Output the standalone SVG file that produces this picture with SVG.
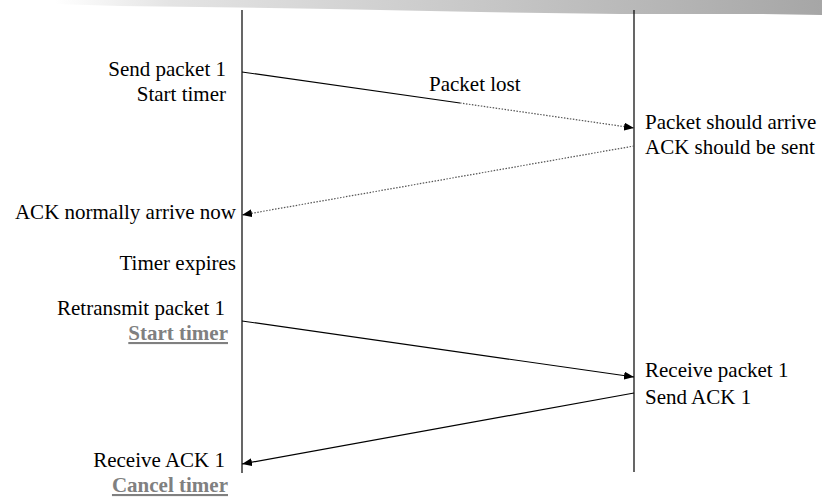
<svg xmlns="http://www.w3.org/2000/svg" width="822" height="498" viewBox="0 0 822 498">
<style>
text{font-family:"Liberation Serif","Times New Roman",serif;font-size:21px;fill:#000}
.r{text-anchor:end}
.em{font-weight:bold;fill:#808080;text-decoration:underline}
.life{stroke:#000;stroke-width:1.2;fill:none}
.solid{stroke:#000;stroke-width:1.2;fill:none}
.dot{stroke:#555;stroke-width:1.2;stroke-dasharray:1.5 1.5;fill:none}
</style>
<defs>
<linearGradient id="bar" x1="0" y1="0" x2="1" y2="0">
<stop offset="0" stop-color="#ffffff"/>
<stop offset="0.15" stop-color="#e4e4e4"/>
<stop offset="0.6" stop-color="#c4c4c4"/>
<stop offset="1" stop-color="#a6a6a6"/>
</linearGradient>
<marker id="ah" viewBox="0 0 10 8" refX="10" refY="4" markerWidth="10" markerHeight="8" markerUnits="userSpaceOnUse" orient="auto">
<path d="M0 0 L10 4 L0 8 Z" fill="#000"/>
</marker>
</defs>
<g id="header">
<path d="M55 0 L822 0 L822 15 L760 14 L620 14 L480 12 L330 9 L200 7 L120 6 L55 4 Z" fill="url(#bar)"/>
</g>
<g id="lifelines">
<line id="sender" class="life" x1="242" y1="10" x2="242" y2="473"/>
<line id="receiver" class="life" x1="634" y1="10" x2="634" y2="472"/>
</g>
<g id="connectors">
<line class="solid" x1="242" y1="72" x2="460" y2="103"/>
<line class="dot" x1="460" y1="103" x2="634" y2="128" marker-end="url(#ah)"/>
<line class="dot" x1="634" y1="146" x2="242" y2="215" marker-end="url(#ah)"/>
<line class="solid" x1="242" y1="321" x2="634" y2="377" marker-end="url(#ah)"/>
<line class="solid" x1="634" y1="393" x2="242" y2="464" marker-end="url(#ah)"/>
</g>
<g id="send1">
<text class="r" x="226" y="76">Send packet 1</text>
<text class="r" x="226" y="101">Start timer</text>
</g>
<g id="lost">
<text x="429" y="91">Packet lost</text>
</g>
<g id="should">
<text x="645" y="129">Packet should arrive</text>
<text x="645" y="154">ACK should be sent</text>
</g>
<g id="normal">
<text class="r" x="236" y="219">ACK normally arrive now</text>
</g>
<g id="expires">
<text class="r" x="236" y="270">Timer expires</text>
</g>
<g id="retrans">
<text class="r" x="225" y="315">Retransmit packet 1</text>
<text class="r em" x="228" y="340">Start timer</text>
</g>
<g id="recv">
<text x="645" y="377">Receive packet 1</text>
<text x="645" y="404">Send ACK 1</text>
</g>
<g id="recvack">
<text class="r" x="225" y="467">Receive ACK 1</text>
<text class="r em" x="228" y="492">Cancel timer</text>
</g>
</svg>
